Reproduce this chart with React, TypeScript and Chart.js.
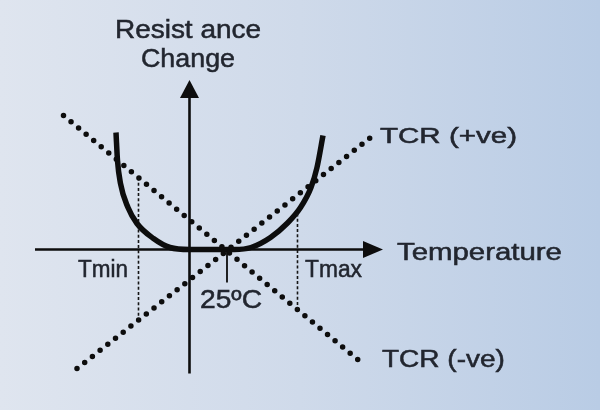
import React, { useEffect, useRef } from "react";
import { Chart, registerables } from "chart.js";

Chart.register(...registerables);

// Temperature (°C, 0 at the vertical axis) and resistance change (arbitrary units)
const curveTemp = [-49, -48, -46, -41, -35, -24, -13, 0, 30, 41, 54, 65, 74, 81, 85, 89];
const curveRes = [117, 89, 66, 42, 26, 11, 2, 0, 0, 2, 12, 26, 42, 62, 82, 114];

const tcrPosTemp = [-75, 125];
const tcrPosRes = [-119, 117];
const tcrNegTemp = [-84, 117];
const tcrNegRes = [134, -116];

const tMinTemp = -34;
const tMinRes = [72, -70];
const tMaxTemp = 72;
const tMaxRes = [36, -60];

const refTemp = 25;
const refTickRes = [0, -33];

const xAxisTemp = [-103, 129]; // start, arrow tip
const yAxisRes = [-124, 169.5]; // start, arrow tip

const labelTexts = ["Resist ance", "Change", "Temperature", "TCR (+ve)", "TCR (-ve)", "Tmin", "Tmax", "25ºC"];
const labelTemp = [-1, -1, 138.3, 127, 128.3, -74.3, 77, 7];
const labelRes = [211.5, 182.5, -10.5, 106.5, -117.5, -27.5, -27.5, -58.5];

const labelStyle = [
  { size: 25, width: 146, align: "center" },
  { size: 25, width: 94, align: "center" },
  { size: 23, width: 165, align: "left" },
  { size: 22, width: 137, align: "left" },
  { size: 23, width: 123, align: "left" },
  { size: 23, width: 50, align: "left" },
  { size: 23, width: 57, align: "left" },
  { size: 25, width: 62, align: "left" },
];

const INK = "#0d0d0d";
const TEXT = "#22262f";

const pts = (xs: number[], ys: number[]) => xs.map((x, i) => ({ x, y: ys[i] }));

const diagramPlugin = {
  id: "diagram",
  beforeDatasetsDraw(chart: any) {
    const { ctx, scales } = chart;
    const xs = scales.x, ys = scales.y;
    const x0 = xs.getPixelForValue(0);
    const y0 = ys.getPixelForValue(0);
    ctx.save();
    ctx.strokeStyle = INK;
    ctx.fillStyle = INK;
    ctx.lineWidth = 2.6;
    // horizontal axis
    const hx1 = xs.getPixelForValue(xAxisTemp[0]);
    const hx2 = xs.getPixelForValue(xAxisTemp[1]);
    ctx.beginPath();
    ctx.moveTo(hx1, y0);
    ctx.lineTo(hx2 - 10, y0);
    ctx.stroke();
    ctx.beginPath();
    ctx.moveTo(hx2, y0);
    ctx.lineTo(hx2 - 20, y0 - 8.5);
    ctx.lineTo(hx2 - 20, y0 + 8.5);
    ctx.closePath();
    ctx.fill();
    // vertical axis
    const vy1 = ys.getPixelForValue(yAxisRes[0]);
    const vy2 = ys.getPixelForValue(yAxisRes[1]);
    ctx.beginPath();
    ctx.moveTo(x0, vy1);
    ctx.lineTo(x0, vy2 + 10);
    ctx.stroke();
    ctx.beginPath();
    ctx.moveTo(x0, vy2);
    ctx.lineTo(x0 - 9.5, vy2 + 18);
    ctx.lineTo(x0 + 9.5, vy2 + 18);
    ctx.closePath();
    ctx.fill();
    ctx.restore();
  },
  afterDatasetsDraw(chart: any) {
    const { ctx, scales } = chart;
    ctx.save();
    ctx.fillStyle = TEXT;
    ctx.strokeStyle = TEXT;
    ctx.lineWidth = 0.5;
    ctx.textBaseline = "alphabetic";
    labelTexts.forEach((t, i) => {
      const st = labelStyle[i];
      ctx.font = `${st.size}px "Liberation Sans", Arial, sans-serif`;
      const w = ctx.measureText(t).width;
      const sx = st.width / w;
      const px = scales.x.getPixelForValue(labelTemp[i]);
      const py = scales.y.getPixelForValue(labelRes[i]);
      const left = st.align === "center" ? px - st.width / 2 : px;
      ctx.save();
      ctx.translate(left, py);
      ctx.scale(sx, 1);
      ctx.textAlign = "left";
      ctx.fillText(t, 0, 0);
      ctx.strokeText(t, 0, 0);
      ctx.restore();
    });
    ctx.restore();
  },
};

export default function App() {
  const ref = useRef<HTMLCanvasElement | null>(null);
  useEffect(() => {
    if (!ref.current) return;
    const dotted = {
      borderColor: INK,
      borderWidth: 5.5,
      borderDash: [0, 9.8],
      borderCapStyle: "round",
      pointRadius: 0,
      showLine: true,
    };
    const dashed = {
      borderColor: "#151515",
      borderWidth: 1.6,
      borderDash: [3, 2.2],
      pointRadius: 0,
      showLine: true,
    };
    const chart = new Chart(ref.current, {
      type: "scatter",
      data: {
        datasets: [
          { ...dashed, data: pts([tMinTemp, tMinTemp], tMinRes) },
          { ...dashed, data: pts([tMaxTemp, tMaxTemp], tMaxRes) },
          {
            borderColor: INK,
            borderWidth: 1.8,
            pointRadius: 0,
            showLine: true,
            data: pts([refTemp, refTemp], refTickRes),
          },
          { ...dotted, data: pts(tcrNegTemp, tcrNegRes) },
          { ...dotted, data: pts(tcrPosTemp, tcrPosRes) },
          {
            borderColor: INK,
            borderWidth: 5.5,
            borderCapStyle: "butt",
            borderJoinStyle: "round",
            cubicInterpolationMode: "monotone",
            pointRadius: 0,
            showLine: true,
            data: pts(curveTemp, curveRes),
          },
        ] as any,
      },
      options: {
        animation: false,
        responsive: false,
        devicePixelRatio: 1,
        layout: { padding: 0 },
        plugins: { legend: { display: false }, tooltip: { enabled: false } },
        events: [],
        scales: {
          x: { type: "linear", display: false, min: -126.33, max: 273.67 },
          y: { type: "linear", display: false, min: -160.5, max: 249.5 },
        },
      } as any,
      plugins: [diagramPlugin],
    });
    return () => chart.destroy();
  }, []);
  return (
    <div
      style={{
        position: "fixed",
        left: 0,
        top: 0,
        width: 600,
        height: 410,
        background: "linear-gradient(90deg, #dfe5ef 0%, #cfdaea 50%, #b9cce5 100%)",
      }}
    >
      <canvas ref={ref} width={600} height={410} style={{ display: "block" }} />
    </div>
  );
}
